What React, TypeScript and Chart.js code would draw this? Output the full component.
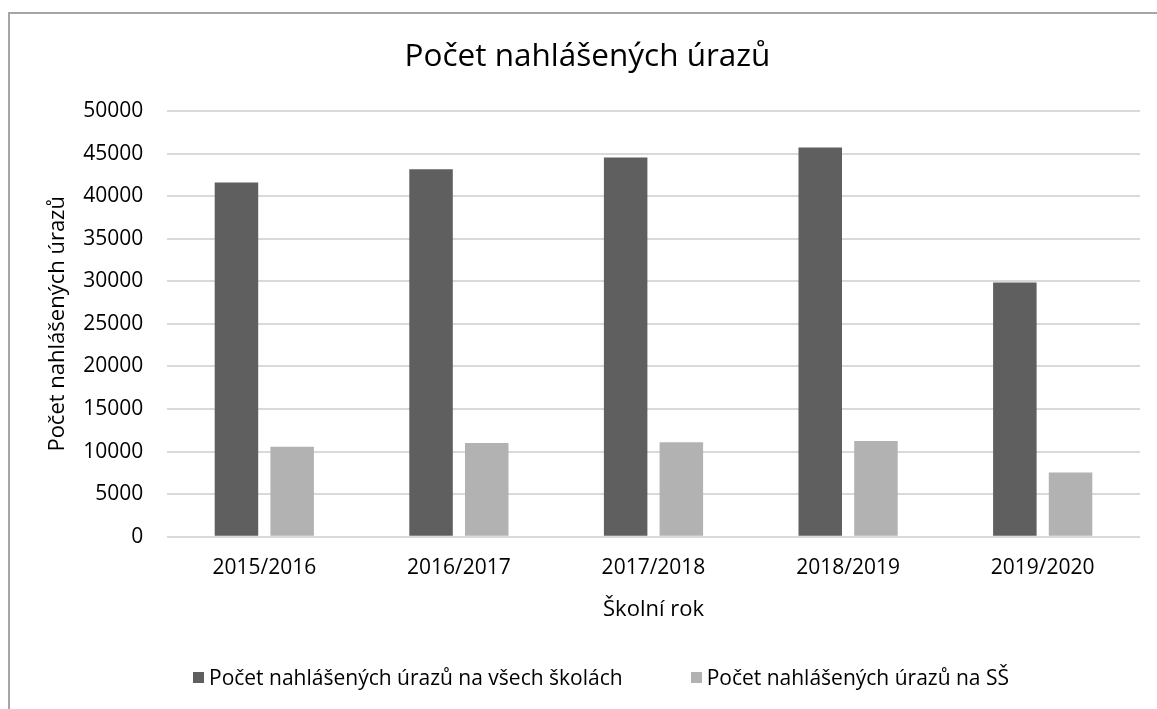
import React, { useEffect, useRef } from "react";
import { Chart, registerables } from "chart.js";

Chart.register(...registerables);

const chartTitle = "Počet nahlášených úrazů";
const xAxisTitle = "Školní rok";
const yAxisTitle = "Počet nahlášených úrazů";
const categories = ["2015/2016", "2016/2017", "2017/2018", "2018/2019", "2019/2020"];
const seriesAllLabel = "Počet nahlášených úrazů na všech školách";
const seriesAll = [41600, 43150, 44530, 45700, 29850];
const seriesSSLabel = "Počet nahlášených úrazů na SŠ";
const seriesSS = [10560, 11000, 11100, 11230, 7550];
const yTicks = [0, 5000, 10000, 15000, 20000, 25000, 30000, 35000, 40000, 45000, 50000];

const colorAll = "#5f5f5f";
const colorSS = "#b2b2b2";
const FONT = "'Open Sans', sans-serif";

export default function App() {
  const ref = useRef<HTMLCanvasElement | null>(null);

  useEffect(() => {
    if (!ref.current) return;
    const chart = new Chart(ref.current, {
      type: "bar",
      data: {
        labels: categories,
        datasets: [
          {
            label: seriesAllLabel,
            data: seriesAll,
            backgroundColor: colorAll,
            categoryPercentage: 0.5725,
            barPercentage: 0.781,
          },
          {
            label: seriesSSLabel,
            data: seriesSS,
            backgroundColor: colorSS,
            categoryPercentage: 0.5725,
            barPercentage: 0.781,
          },
        ],
      },
      options: {
        responsive: false,
        animation: false,
        layout: { padding: { left: 35, right: 17, top: 0, bottom: 80.3 } },
        plugins: {
          legend: { display: false },
          tooltip: { enabled: false },
          title: {
            display: true,
            text: chartTitle,
            color: "#000",
            font: { family: FONT, size: 31.5, weight: "normal" },
            padding: { top: 38.6, bottom: 34.6 },
          },
        },
        scales: {
          x: {
            grid: { display: false, drawTicks: false },
            border: { display: false },
            ticks: {
              color: "#000",
              font: { family: FONT, size: 21 },
              padding: 19.2,
              maxRotation: 0,
            },
            title: {
              display: true,
              text: xAxisTitle,
              color: "#000",
              font: { family: FONT, size: 22 },
              padding: { top: 0, bottom: 5.5 },
            },
            afterFit: (s: any) => {
              s.height = 92;
            },
          },
          y: {
            min: 0,
            max: 50000,
            afterBuildTicks: (s: any) => {
              s.ticks = yTicks.map((v) => ({ value: v }));
            },
            grid: { color: "#d9d9d9", lineWidth: 2, drawTicks: false },
            border: { display: false },
            ticks: {
              color: "#000",
              font: { family: FONT, size: 21 },
              padding: 23.7,
              callback: (v: any) => String(v),
            },
            title: {
              display: true,
              text: yAxisTitle,
              color: "#000",
              font: { family: FONT, size: 22 },
              padding: { top: 9.8, bottom: 0 },
            },
            afterFit: (s: any) => {
              s.width = 132;
            },
          },
        },
      },
    });
    return () => chart.destroy();
  }, []);

  const legendItem = (color: string, text: string) => (
    <div style={{ display: "flex", alignItems: "center" }}>
      <span style={{ display: "inline-block", width: 11, height: 11, background: color, marginRight: 5 }} />
      <span>{text}</span>
    </div>
  );

  return (
    <div style={{ position: "fixed", left: 0, top: 0, width: 1157, height: 709, background: "#fff", overflow: "hidden" }}>
      <canvas ref={ref} width={1157} height={709} style={{ display: "block", position: "absolute", left: 0, top: 0 }} />
      <div
        style={{
          position: "absolute",
          left: 8,
          top: 12,
          width: 1300,
          height: 900,
          borderLeft: "2px solid #a6a6a6",
          borderTop: "2px solid #a6a6a6",
          pointerEvents: "none",
        }}
      />
      <div
        style={{
          position: "absolute",
          left: 193,
          top: 663,
          display: "flex",
          gap: 68,
          fontFamily: FONT,
          fontSize: 21,
          lineHeight: "28px",
          color: "#000",
          whiteSpace: "nowrap",
        }}
      >
        {legendItem(colorAll, seriesAllLabel)}
        {legendItem(colorSS, seriesSSLabel)}
      </div>
    </div>
  );
}
